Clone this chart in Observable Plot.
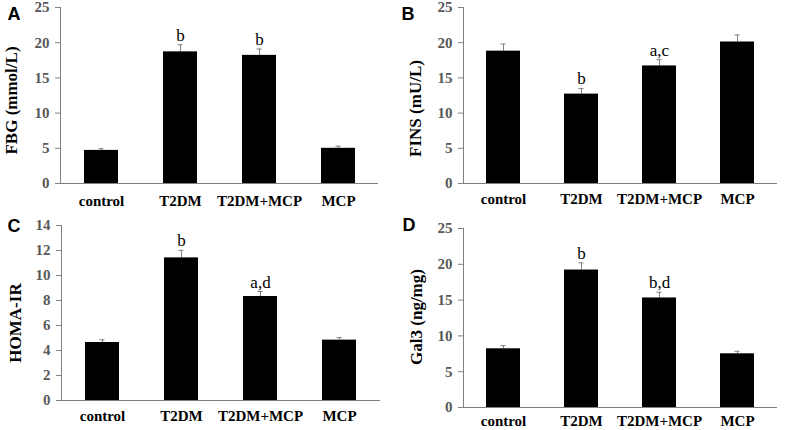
<!DOCTYPE html>
<html>
<head>
<meta charset="utf-8">
<script src="https://cdn.jsdelivr.net/npm/d3@7"></script>
<script src="https://cdn.jsdelivr.net/npm/@observablehq/plot@0.6"></script>
<style>
  html, body { margin: 0; padding: 0; background: white; }
  #wrap { position: relative; width: 787px; height: 430px; background: white; overflow: hidden; }
  #wrap > div { position: absolute; }
  #wrap svg g[aria-label$="tick label"],
  #wrap svg g[aria-label$="tick label"] text { font-family: 'Liberation Serif', 'Times New Roman', serif !important; font-weight: bold; }
</style>
</head>
<body>
<div id="wrap"></div>
<script>
const groups = ["control", "T2DM", "T2DM+MCP", "MCP"];

const fbgValues = [4.7, 18.7, 18.2, 5.0];
const fbgErrors = [0.25, 1.0, 0.9, 0.3];
const fbgMarks = ["", "b", "b", ""];

const finsValues = [18.8, 12.7, 16.7, 20.1];
const finsErrors = [1.0, 0.8, 0.9, 1.0];
const finsMarks = ["", "b", "a,c", ""];

const homaValues = [4.64, 11.41, 8.32, 4.83];
const homaErrors = [0.22, 0.6, 0.4, 0.2];
const homaMarks = ["", "b", "a,d", ""];

const gal3Values = [8.2, 19.2, 15.3, 7.5];
const gal3Errors = [0.45, 1.0, 0.8, 0.35];
const gal3Marks = ["", "b", "b,d", ""];

const ticks25 = [0, 5, 10, 15, 20, 25];
const ticks14 = [0, 2, 4, 6, 8, 10, 12, 14];

const panels = [
  {letter: "A", title: "FBG (mmol/L)", values: fbgValues, errors: fbgErrors, marks: fbgMarks, ticks: ticks25,
   left: 0, top: 0, width: 393, height: 215, mL: 60, mR: 15, mT: 7, mB: 32, xPad: 12, tdx: -49, tdy: 5, lx: 7, ly: 14},
  {letter: "B", title: "FINS (mU/L)", values: finsValues, errors: finsErrors, marks: finsMarks, ticks: ticks25,
   left: 395, top: 0, width: 392, height: 215, mL: 68, mR: 10, mT: 7, mB: 32, xPad: 10, tdx: -48, tdy: 13, lx: 6, ly: 14},
  {letter: "C", title: "HOMA-IR", values: homaValues, errors: homaErrors, marks: homaMarks, ticks: ticks14,
   left: 0, top: 215, width: 393, height: 215, mL: 61, mR: 13, mT: 10, mB: 30, xPad: 10, tdx: -46, tdy: 10, lx: 7, ly: 11},
  {letter: "D", title: "Gal3 (ng/mg)", values: gal3Values, errors: gal3Errors, marks: gal3Marks, ticks: ticks25,
   left: 395, top: 215, width: 392, height: 215, mL: 68, mR: 10, mT: 13, mB: 23, xPad: 8, tdx: -47, tdy: -1, lx: 7, ly: 10}
];

const axisGray = "#808080";
const serif = "'Liberation Serif', 'Times New Roman', serif";
const wrap = document.getElementById("wrap");

for (const p of panels) {
  const data = groups.map((g, i) => ({group: g, value: p.values[i], err: p.errors[i], mark: p.marks[i]}));
  const chart = Plot.plot({
    width: p.width,
    height: p.height,
    marginLeft: p.mL,
    marginRight: p.mR,
    marginTop: p.mT,
    marginBottom: p.mB,
    style: {fontFamily: serif, fontSize: "15px", background: "white", overflow: "visible"},
    x: {domain: groups, paddingInner: 0.57, paddingOuter: 0.285, label: null},
    y: {domain: [p.ticks[0], p.ticks[p.ticks.length - 1]], label: null},
    marks: [
      Plot.ruleX(data, {x: "group", y1: "value", y2: d => d.value + d.err, stroke: axisGray, strokeWidth: 1}),
      Plot.tickY(data, {x: "group", y: d => d.value + d.err, stroke: axisGray, strokeWidth: 1, inset: 14.5}),
      Plot.barY(data, {x: "group", y: "value", fill: "black"}),
      Plot.text(data.filter(d => d.mark), {x: "group", y: d => d.value + d.err, text: "mark", lineAnchor: "bottom", dy: -4,
        fontSize: 17, fill: "black", fontFamily: serif}),
      Plot.ruleY([0], {stroke: axisGray, strokeWidth: 1}),
      Plot.frame({anchor: "left", stroke: axisGray, strokeWidth: 1}),
      Plot.axisY({ticks: p.ticks, tickSize: 5, tickPadding: 6, stroke: axisGray, fill: "#595959", fontWeight: "bold", fontSize: 15, fontFamily: serif, label: null}),
      Plot.axisX({tickSize: 0, tickPadding: p.xPad, fill: "black", fontWeight: "bold", fontSize: 15, fontFamily: serif, label: null}),
      Plot.text([p.title], {frameAnchor: "left", text: d => d, rotate: -90, textAnchor: "middle", lineAnchor: "middle", dx: p.tdx, dy: p.tdy,
        fontSize: 17, fontWeight: "bold", fill: "black", fontFamily: serif}),
      Plot.text([p.letter], {frameAnchor: "top-left", text: d => d, textAnchor: "start", dx: p.lx - p.mL, dy: p.ly - p.mT, lineAnchor: "middle",
        fontFamily: "'Liberation Sans', Arial, sans-serif", fontWeight: "bold", fontSize: 18, fill: "black"})
    ]
  });
  const holder = document.createElement("div");
  holder.style.left = p.left + "px";
  holder.style.top = p.top + "px";
  holder.appendChild(chart);
  wrap.appendChild(holder);
}
</script>
</body>
</html>
